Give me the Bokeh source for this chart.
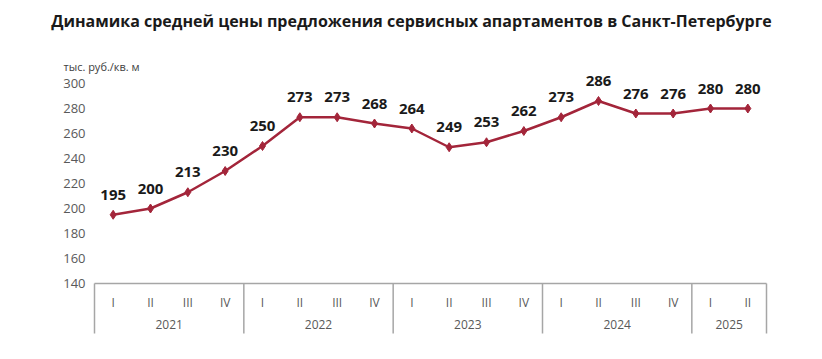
from bokeh.plotting import figure
from bokeh.models import Range1d, ColumnDataSource, Title
from bokeh.core.properties import value
from bokeh.embed import file_html
from bokeh.resources import INLINE

# ---- data ----
title_text = "Динамика средней цены предложения сервисных апартаментов в Санкт-Петербурге"
unit_text = "тыс. руб./кв. м"
years = ["2021", "2022", "2023", "2024", "2025"]
quarters_per_year = [4, 4, 4, 4, 2]
quarter_labels = ["I", "II", "III", "IV", "I", "II", "III", "IV", "I", "II", "III", "IV",
                  "I", "II", "III", "IV", "I", "II"]
prices = [195, 200, 213, 230, 250, 273, 273, 268, 264, 249, 253, 262, 273, 286, 276, 276, 280, 280]
y_ticks = [140, 160, 180, 200, 220, 240, 260, 280, 300]

# ---- styles / layout ----
LINE_COLOR = "#a3253a"
BOX_COLOR = "#a6a6a6"
TICK_COLOR = "#595959"
FONT = "Open Sans"
W, H = 822, 345
TOP = 36                 # title band height
AX_LEFT, AX_RIGHT = 94, 766   # pixel span of the category table
Y_TOP_PX, Y_BOT_PX = 83, 283  # pixel rows of the top and bottom y ticks

n = len(prices)
xs = [i + 0.5 for i in range(n)]
y_min, y_max = y_ticks[0], y_ticks[-1]
cat_px = (AX_RIGHT - AX_LEFT) / n
unit_px = (Y_BOT_PX - Y_TOP_PX) / (y_max - y_min)
x_range = Range1d(-AX_LEFT / cat_px, (W - AX_LEFT) / cat_px)
y_range = Range1d(y_min - (H - Y_BOT_PX) / unit_px, y_max + (Y_TOP_PX - TOP) / unit_px)

p = figure(width=W, height=H, output_backend="svg", toolbar_location=None,
           x_range=x_range, y_range=y_range,
           min_border_left=0, min_border_right=0, min_border_top=TOP, min_border_bottom=0)
p.outline_line_color = None
p.xgrid.visible = False
p.ygrid.visible = False
p.xaxis.visible = False
p.yaxis.visible = False

p.title = Title(text=title_text, align="center", text_font=FONT, text_font_size="16px",
                text_font_style="bold", text_color="#1a1a1a")

# y tick labels and unit
p.text([0] * len(y_ticks), y_ticks, text=[str(v) for v in y_ticks], text_font=value(FONT),
       text_font_size="13px", text_color=TICK_COLOR, text_align="right",
       text_baseline="middle", x_offset=-9)
p.text([0], [y_max], text=[unit_text], text_font=value(FONT), text_font_size="11px",
       text_color="#404040", text_align="left", text_baseline="middle",
       x_offset=-31, y_offset=-17)

# line + markers + value labels
src = ColumnDataSource(dict(x=xs, y=prices, lbl=[str(v) for v in prices]))
p.line("x", "y", source=src, line_color=LINE_COLOR, line_width=2.5)
p.scatter("x", "y", source=src, marker="diamond", size=9, fill_color=LINE_COLOR,
          line_color=LINE_COLOR)
p.text("x", "y", text="lbl", source=src, text_font=value(FONT), text_font_style="bold",
       text_font_size="15px", text_color="#1a1a1a", text_align="center",
       text_baseline="middle", y_offset=-20)

# category axis drawn as a box table below the plot
bounds = [0]
for q in quarters_per_year:
    bounds.append(bounds[-1] + q)
box_depth = 50 / unit_px
p.segment(x0=[0], y0=[y_min], x1=[n], y1=[y_min], line_color=BOX_COLOR, line_width=1.5)
p.segment(x0=bounds, y0=[y_min] * len(bounds), x1=bounds, y1=[y_min - box_depth] * len(bounds),
          line_color=BOX_COLOR, line_width=1.5)
p.text(xs, [y_min] * n, text=quarter_labels, text_font=value(FONT), text_font_size="12px",
       text_color=TICK_COLOR, text_align="center", text_baseline="middle", y_offset=19)
year_x = [(bounds[i] + bounds[i + 1]) / 2 for i in range(len(years))]
p.text(year_x, [y_min] * len(years), text=years, text_font=value(FONT), text_font_size="12px",
       text_color=TICK_COLOR, text_align="center", text_baseline="middle", y_offset=41)

open("out.html", "w").write(file_html(p, INLINE))
